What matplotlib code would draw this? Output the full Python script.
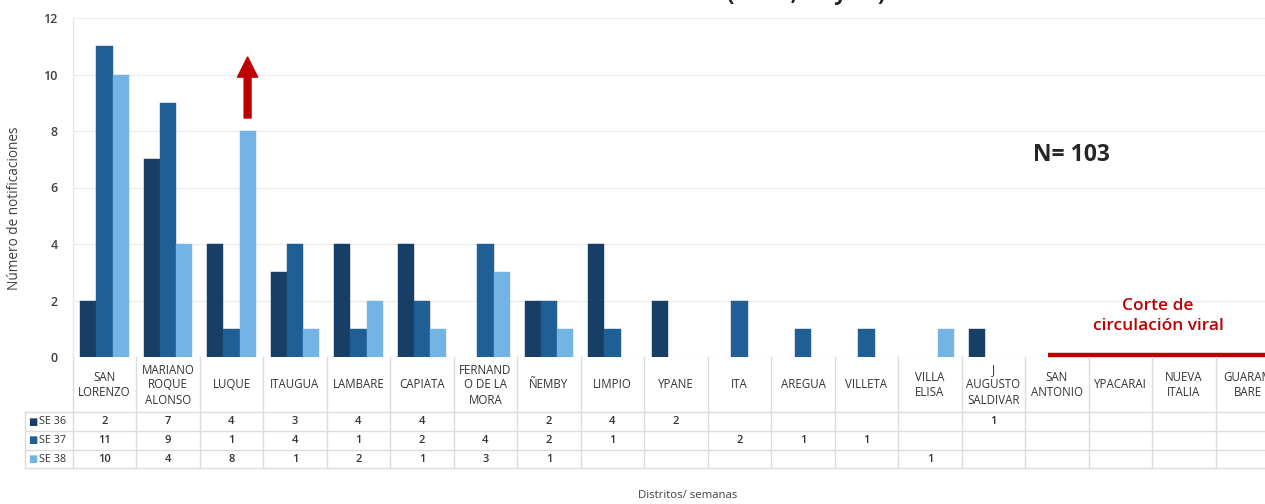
import matplotlib
matplotlib.use("Agg")
import matplotlib.pyplot as plt
from matplotlib import transforms
from matplotlib.lines import Line2D
import numpy as np

plt.rcParams['font.family'] = ['Open Sans', 'DejaVu Sans']

# ---------------- data ----------------
categories = ["SAN\nLORENZO", "MARIANO\nROQUE\nALONSO", "LUQUE", "ITAUGUA", "LAMBARE",
              "CAPIATA", "FERNAND\nO DE LA\nMORA", "ÑEMBY", "LIMPIO", "YPANE", "ITA",
              "AREGUA", "VILLETA", "VILLA\nELISA", "J\nAUGUSTO\nSALDIVAR", "SAN\nANTONIO",
              "YPACARAI", "NUEVA\nITALIA", "GUARAM\nBARE"]
series_names = ["SE 36", "SE 37", "SE 38"]
se36 = [2, 7, 4, 3, 4, 4, None, 2, 4, 2, None, None, None, None, 1, None, None, None, None]
se37 = [11, 9, 1, 4, 1, 2, 4, 2, 1, None, 2, 1, 1, None, None, None, None, None, None]
se38 = [10, 4, 8, 1, 2, 1, 3, 1, None, None, None, None, None, 1, None, None, None, None, None]
series = [se36, se37, se38]
colors = ["#173f66", "#1f5f95", "#74b4e4"]
yticks = [0, 2, 4, 6, 8, 10, 12]
title_text = "(SE 36, 37 y 38)"
n_text = "N= 103"
cut_text = "Corte de\ncirculación viral"
cut_start = "SAN\nANTONIO"
arrow_cat = "LUQUE"

# ---------------- layout ----------------
W, H = 1265, 504
fig = plt.figure(figsize=(W / 100, H / 100), dpi=100)
ax_left, ax_right, ax_top, ax_bottom = 72.7, 72.7 + 19 * 63.5, 18, 357
ax = fig.add_axes([ax_left / W, 1 - ax_bottom / H, (ax_right - ax_left) / W, (ax_bottom - ax_top) / H])

x = np.arange(len(categories))
bw = 0.254
for k, (vals, col) in enumerate(zip(series, colors)):
    v = np.array([np.nan if a is None else a for a in vals], dtype=float)
    ax.bar(x + (k - 1) * bw, v, width=bw, color=col, edgecolor=col, linewidth=0.3, zorder=3)

ax.set_xlim(-0.5, len(categories) - 0.5)
ax.set_ylim(0, 12)
ax.set_yticks(yticks)
ax.set_xticks([])
ax.tick_params(axis='y', length=0, pad=11, labelsize=9, labelcolor='#404040')
for lab in ax.get_yticklabels():
    lab.set_fontweight('semibold')
ax.grid(axis='y', color='#ececec', linewidth=1, zorder=0)
for s in ['top', 'right', 'bottom']:
    ax.spines[s].set_visible(False)
ax.spines['left'].set_color('#e6e6e6')
ax.spines['left'].set_linewidth(1)

# ---------------- data table ----------------
tr = transforms.blended_transform_factory(ax.transData, fig.transFigure)
def fy(py):
    return 1 - py / H
def dx(px):
    return (px - ax_left) / 63.5 - 0.5

line_col = '#dcdcdc'
row_tops = [357, 412, 431, 450, 468]
xl_hdr = dx(25)
xr = len(categories) - 0.5 + 1
for i in range(len(categories) + 1):
    fig.add_artist(Line2D([i - 0.5, i - 0.5], [fy(357), fy(468)], transform=tr, color=line_col, lw=1))
fig.add_artist(Line2D([xl_hdr, xl_hdr], [fy(412), fy(468)], transform=tr, color=line_col, lw=1))
for py in row_tops[1:]:
    fig.add_artist(Line2D([xl_hdr, xr], [fy(py), fy(py)], transform=tr, color=line_col, lw=1))

txt_col = '#333333'
for i, cat in enumerate(categories):
    fig.text(i, fy(385), cat, transform=tr, ha='center', va='center', fontsize=8.3,
             color=txt_col, linespacing=1.2)

row_centers = [421.5, 440.5, 459]
for r, (name, vals, col) in enumerate(zip(series_names, series, colors)):
    yc = fy(row_centers[r])
    fig.text(dx(33), yc, "■", transform=tr, ha='center', va='center', fontsize=7, color=col,
             family=['DejaVu Sans'])
    fig.text(dx(39), yc, name, transform=tr, ha='left', va='center', fontsize=7.8, color=txt_col)
    for i, v in enumerate(vals):
        if v is not None:
            fig.text(i, yc, str(v), transform=tr, ha='center', va='center', fontsize=8,
                     color=txt_col, fontweight='semibold')

# ---------------- annotations ----------------
fig.text(15 / W, fy(208), "Número de notificaciones", rotation=90, ha='center', va='center',
         fontsize=9.8, color='#404040')
fig.text(688 / W, fy(495), "Distritos/ semanas", ha='center', va='center', fontsize=8.2, color='#404040')
fig.text(1033 / W, fy(155), n_text, ha='left', va='center', fontsize=16.5, fontweight='bold', color='#262626')
fig.text(1158 / W, fy(316), cut_text, ha='center', va='center', fontsize=12.5, fontweight='semibold',
         color='#c00000', linespacing=1.4)
fig.text(806 / W, 1.0, title_text, ha='center', va='baseline', fontsize=16, fontweight='bold', color='#262626')

ci = categories.index(cut_start)
ax.plot([ci - 0.14, len(categories)], [0.07, 0.07], color='#c00000', lw=3.2, clip_on=False,
        solid_capstyle='butt', zorder=5)

ai = categories.index(arrow_cat)
ax_x = ai + bw
ax.annotate('', xy=(ax_x, se38[ai] + 2.62), xytext=(ax_x, se38[ai] + 0.46),
            arrowprops=dict(arrowstyle='simple,head_length=1.45,head_width=1.45,tail_width=0.5',
                            color='#c00000', shrinkA=0, shrinkB=0, mutation_scale=10), zorder=6)

fig.savefig("out.png", dpi=100)
